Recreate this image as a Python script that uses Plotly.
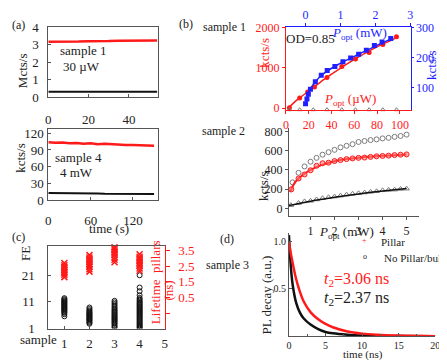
import plotly.graph_objects as go

W, H = 447, 360
FONT = "Liberation Serif"
RED = "#ff1a1a"
BLUE = "#1f1fff"
GRAY = "#7a7a7a"
AX = "#555555"

# ---------------- data ----------------
# (a) sample 1, Mcts/s vs time (s)
a1_t = [0, 5, 10, 15, 20, 25, 30, 35, 40, 45, 50, 54]
a1_pillar = [3.18, 3.17, 3.2, 3.19, 3.21, 3.2, 3.22, 3.24, 3.25, 3.24, 3.26, 3.25]
a1_bulk = [0.3, 0.3, 0.3, 0.3, 0.3, 0.3, 0.3, 0.3, 0.3, 0.3, 0.3, 0.3]
# (a) sample 4, kcts/s vs time (s)
a4_t = [0, 10, 20, 30, 40, 50, 60, 70, 80, 90, 100, 110, 120, 130, 140, 150]
a4_pillar = [104, 103, 103.5, 102, 102.5, 101, 102, 100.5, 101, 100, 99.5, 99, 99, 98, 98, 97.5]
a4_bulk = [12.5, 12.5, 12, 12, 12, 11.5, 11.5, 11.5, 11, 11, 11, 11, 10.5, 10.5, 10.5, 10.5]

# (b) sample 1: red = P_opt (uW) vs kcts/s (left), blue = P_opt (mW) vs kcts/s (right)
b1_red_p = [3, 12, 19, 25, 36, 49, 61, 73, 85, 97]
b1_red_k = [10, 250, 400, 525, 760, 1030, 1215, 1380, 1580, 1770]
b1_redfit_p = [2, 10, 20, 30, 40, 50, 60, 70, 80, 90, 98]
b1_redfit_k = [0, 210, 420, 640, 840, 1030, 1210, 1370, 1520, 1650, 1760]
b1_bg_p = [3, 12, 24, 36, 49, 61, 73, 85, 97]
b1_bg_k = [-40, -40, -40, -40, -40, -40, -40, -40, -40]
b1_blue_p = [0, 0.04, 0.08, 0.14, 0.28, 0.45, 0.62, 0.84, 1.07, 1.29, 1.52, 1.74, 1.97, 2.19, 2.44]
b1_blue_k = [46, 62, 78, 94, 119, 141, 157, 170, 186, 198, 211, 224, 240, 252, 263]
b1_bluefit_p = [0, 0.05, 0.15, 0.3, 0.5, 0.8, 1.1, 1.5, 2.0, 2.45]
b1_bluefit_k = [45, 68, 98, 122, 145, 168, 187, 210, 238, 262]

# (b) sample 2: kcts/s vs P_opt (mW)
b2_circ_p = [0.25, 0.5, 0.75, 1.0, 1.25, 1.5, 1.75, 2.0, 2.25, 2.5, 2.75, 3.0, 3.25, 3.5, 3.75, 4.0, 4.25, 4.5, 4.75, 5.0]
b2_circ_k = [271, 370, 436, 485, 525, 558, 584, 608, 634, 650, 667, 690, 700, 710, 717, 727, 733, 743, 752, 766]
b2_red_p = [0.2, 0.5, 0.75, 1.0, 1.25, 1.5, 1.75, 2.0, 2.25, 2.5, 2.75, 3.0, 3.25, 3.5, 3.75, 4.0, 4.25, 4.5, 4.75, 5.0]
b2_red_k = [198, 311, 353, 396, 443, 469, 475, 492, 502, 512, 519, 525, 528, 535, 541, 545, 548, 554, 558, 561]
b2_redfit_p = [0.15, 0.3, 0.5, 0.75, 1.0, 1.5, 2.0, 2.5, 3.0, 3.5, 4.0, 4.5, 5.0]
b2_redfit_k = [170, 250, 310, 360, 400, 455, 490, 512, 527, 537, 546, 553, 560]
b2_tri_p = [0.18, 0.5, 0.75, 1.0, 1.25, 1.5, 1.75, 2.0, 2.25, 2.5, 2.75, 3.0, 3.25, 3.5, 3.75, 4.0, 4.25, 4.5, 4.75, 5.0]
b2_tri_k = [34, 56, 73, 79, 93, 106, 116, 123, 133, 143, 152, 158, 165, 172, 178, 188, 192, 195, 202, 205]
b2_fit_p = [0.1, 1, 2, 3, 4, 5]
b2_fit_k = [30, 75, 115, 150, 180, 207]

# (c) FE and lifetime per sample
c_fe = {
    1: [5.6, 6.4, 6.9, 7.3, 7.7, 8.0, 8.3, 8.6, 8.9, 9.2, 9.5, 9.8, 10.1, 10.4, 10.7, 11.0, 11.3, 11.6, 12.0, 12.4],
    2: [2.8, 3.2, 3.6, 4.0, 4.3, 4.6, 4.9, 5.2, 5.5, 5.8, 6.1, 6.4, 6.7, 7.0, 7.4, 7.8, 8.3, 8.9],
    3: [1.3, 1.8, 2.3, 2.8, 3.2, 3.6, 4.0, 4.4, 4.8, 5.2, 5.6, 6.0, 6.4, 6.8, 7.2, 7.6, 8.0, 8.5, 9.0, 9.6, 10.2, 10.8, 11.4],
    4: [1.0, 1.4, 1.8, 2.2, 2.6, 3.0, 3.4, 3.8, 4.2, 4.6, 5.0, 5.4, 5.8, 6.2, 6.6, 7.0, 7.4, 7.8, 8.2, 8.6, 9.0, 9.4, 9.8, 10.2, 10.6, 11.0, 11.5, 12.0, 12.5, 13.5, 15.0, 16.4, 21.0],
}
c_tau = {
    1: [1.8, 1.95, 2.05, 2.15, 2.25, 2.35, 2.45, 2.55, 2.7],
    2: [2.15, 2.3, 2.45, 2.55, 2.65, 2.75, 2.85, 2.95, 3.05, 3.2],
    3: [2.75, 2.9, 3.05, 3.2, 3.3, 3.4, 3.5, 3.6, 3.7, 3.85],
    4: [2.2, 2.35, 2.5, 2.6, 2.7, 2.8, 2.9, 3.0, 3.1, 3.25],
}

# (d) PL decay
d_t = [0, 0.25, 0.5, 1, 1.5, 2, 3, 4, 5, 6, 8, 10, 12, 15, 20]
d_pillar = [1.0, 0.88, 0.78, 0.6, 0.47, 0.37, 0.25, 0.18, 0.13, 0.095, 0.05, 0.027, 0.015, 0.006, 0.0]
d_bulk = [1.07, 0.75, 0.55, 0.35, 0.25, 0.19, 0.12, 0.075, 0.045, 0.03, 0.015, 0.007, 0.003, 0.001, 0.0]


def xd(x0, x1):
    return [x0 / W, x1 / W]


def yd(y0, y1):
    return [1 - y1 / H, 1 - y0 / H]


fig = go.Figure()


def add(**kw):
    kw.setdefault("showlegend", False)
    kw.setdefault("hoverinfo", "skip")
    fig.add_trace(go.Scatter(**kw))


# (a)
add(x=a1_t, y=a1_pillar, mode="lines", line=dict(color=RED, width=2.5), xaxis="x", yaxis="y")
add(x=a1_t, y=a1_bulk, mode="lines", line=dict(color="#111", width=2), xaxis="x", yaxis="y")
add(x=a4_t, y=a4_pillar, mode="lines", line=dict(color=RED, width=2.5), xaxis="x2", yaxis="y2")
add(x=a4_t, y=a4_bulk, mode="lines", line=dict(color="#111", width=2), xaxis="x2", yaxis="y2")

# (c)
for s in [1, 2, 3, 4]:
    add(x=[s] * len(c_fe[s]), y=c_fe[s], mode="markers",
        marker=dict(symbol="circle-open", size=5, color="#111", line=dict(width=1)),
        xaxis="x3", yaxis="y3")
for s in [1, 2, 3, 4]:
    add(x=[s] * len(c_tau[s]), y=c_tau[s], mode="markers", cliponaxis=False,
        marker=dict(symbol="x-thin-open", size=6, color=RED, line=dict(width=1.5, color=RED)),
        xaxis="x3", yaxis="y4")

# (b) sample 1
add(x=b1_redfit_p, y=b1_redfit_k, mode="lines", line=dict(color=RED, width=1.5, shape="spline"), xaxis="x4", yaxis="y5")
add(x=b1_red_p, y=b1_red_k, mode="markers", marker=dict(color=RED, size=5), xaxis="x4", yaxis="y5")
add(x=b1_bg_p, y=b1_bg_k, mode="markers", cliponaxis=False,
    marker=dict(symbol="triangle-up-open", color=GRAY, size=4, line=dict(width=1)), xaxis="x4", yaxis="y5")
add(x=b1_bluefit_p, y=b1_bluefit_k, mode="lines", line=dict(color=BLUE, width=1.5, shape="spline"), xaxis="x5", yaxis="y6")
add(x=b1_blue_p, y=b1_blue_k, mode="markers", marker=dict(color=BLUE, size=5, symbol="square"), xaxis="x5", yaxis="y6")

# (b) sample 2
add(x=b2_circ_p, y=b2_circ_k, mode="markers",
    marker=dict(symbol="circle-open", color=GRAY, size=5, line=dict(width=1)), xaxis="x6", yaxis="y7")
add(x=b2_redfit_p, y=b2_redfit_k, mode="lines", line=dict(color=RED, width=2, shape="spline"), xaxis="x6", yaxis="y7")
add(x=b2_red_p, y=b2_red_k, mode="markers",
    marker=dict(symbol="circle", color="rgba(255,120,120,0.6)", size=5, line=dict(width=1, color=RED)), xaxis="x6", yaxis="y7")
add(x=b2_tri_p, y=b2_tri_k, mode="markers",
    marker=dict(symbol="triangle-up-open", color=GRAY, size=5, line=dict(width=1)), xaxis="x6", yaxis="y7")
add(x=b2_fit_p, y=b2_fit_k, mode="lines", line=dict(color="#111", width=1.5, shape="spline"), xaxis="x6", yaxis="y7")

# (d)
add(x=d_t, y=d_bulk, mode="lines", line=dict(color="#111", width=2.5, shape="spline"), xaxis="x7", yaxis="y8")
add(x=d_t, y=d_pillar, mode="lines", line=dict(color=RED, width=2.5, shape="spline"), xaxis="x7", yaxis="y8")


def ax(**kw):
    base = dict(showline=True, linecolor=AX, linewidth=1, ticks="inside", ticklen=3,
                tickcolor=AX, showgrid=False, zeroline=False,
                tickfont=dict(family=FONT, size=13, color="#222"))
    base.update(kw)
    return base


layout = dict(
    width=W, height=H, autosize=False,
    margin=dict(l=0, r=0, t=0, b=0),
    paper_bgcolor="white", plot_bgcolor="rgba(0,0,0,0)",
    font=dict(family=FONT, size=13, color="#222"),
    showlegend=False,
    # (a) top
    xaxis=ax(domain=xd(38, 150), anchor="y", range=[0, 54.6], tickvals=[0, 20, 40], mirror=True, ticklabelstandoff=10),
    yaxis=ax(domain=yd(11, 84), anchor="x", range=[0, 4], tickvals=[0, 1, 2, 3, 4], mirror=True, ticklabelstandoff=6),
    # (a) bottom
    xaxis2=ax(domain=xd(38, 150), anchor="y2", range=[0, 156], tickvals=[0, 60, 120], mirror=True, ticklabelstandoff=8),
    yaxis2=ax(domain=yd(118, 192), anchor="x2", range=[0, 127], tickvals=[0, 30, 60, 90, 120], mirror=True, ticklabelstandoff=1),
    # (c)
    xaxis3=ax(domain=xd(38, 156.5), anchor="y3", range=[0.36, 5.0], tickvals=[1, 2, 3, 4, 5], mirror=True, ticklabelstandoff=3),
    yaxis3=ax(domain=yd(240, 327), anchor="x3", range=[1, 32.1], tickvals=[1, 11, 21], ticklabelstandoff=10),
    yaxis4=ax(overlaying="y3", side="right", anchor="x3", range=[-1.47, 3.8],
              tickvals=[0.5, 1.5, 2.5, 3.5],
              minor=dict(tick0=-1.5, dtick=1, ticks="outside", ticklen=4, tickcolor=RED),
              linecolor=RED, tickcolor=RED, ticks="outside", ticklen=4, ticklabelstandoff=6,
              tickfont=dict(family=FONT, size=13, color=RED)),
    # (b) sample 1
    xaxis4=ax(domain=xd(280, 407), anchor="y5", range=[0, 109.5], tickvals=[0, 20, 40, 60, 80, 100],
              linecolor=RED, tickcolor=RED, ticks="outside", tickfont=dict(family=FONT, size=12, color=RED)),
    xaxis5=ax(overlaying="x4", side="top", anchor="y5", range=[-0.56, 3.01], tickvals=[0, 1, 2, 3],
              linecolor=BLUE, tickcolor=BLUE, ticks="outside", tickfont=dict(family=FONT, size=12, color=BLUE)),
    yaxis5=ax(domain=yd(11, 98), anchor="x4", range=[-57, 2000], tickvals=[0, 1000, 2000],
              linecolor=RED, tickcolor=RED, ticks="outside", tickfont=dict(family=FONT, size=12, color=RED)),
    yaxis6=ax(overlaying="y5", side="right", anchor="x4", range=[24, 300], tickvals=[100, 200, 300],
              linecolor=BLUE, tickcolor=BLUE, ticks="outside", ticklen=2, ticklabelstandoff=0,
              tickfont=dict(family=FONT, size=12, color=BLUE)),
    # (b) sample 2
    xaxis6=ax(domain=xd(283, 415), anchor="y7", range=[0.1, 5.5], tickvals=[1, 2, 3, 4, 5], ticks="outside",
              tickfont=dict(family=FONT, size=12, color="#222")),
    yaxis7=ax(domain=yd(117, 209), anchor="x6", range=[-80, 830], tickvals=[0, 200, 400, 600, 800], ticks="outside",
              tickfont=dict(family=FONT, size=12, color="#222")),
    # (d)
    xaxis7=ax(domain=xd(283, 432), anchor="y8", range=[0, 20], tickvals=[0, 5, 10, 15, 20],
              minor=dict(dtick=2.5, ticks="inside", ticklen=2, tickcolor=AX),
              tickfont=dict(family=FONT, size=10, color="#222")),
    yaxis8=ax(domain=yd(227, 335), anchor="x7", range=[0, 1.09], tickvals=[0.5, 1.0], ticktext=["0.5", "1.0"],
              tickfont=dict(family=FONT, size=10, color="#222")),
)
fig.update_layout(**layout)

anns = []


def ann(text, x, y, size=13, color="#222", angle=0, xanchor="center"):
    anns.append(dict(text=text, x=x / W, y=1 - y / H, xref="paper", yref="paper",
                     showarrow=False, xanchor=xanchor, yanchor="middle", textangle=angle,
                     font=dict(family=FONT, size=size, color=color)))


P = "<i>P</i><sub>opt</sub>"
ann("(a)", 8, 8, 12)
ann("(b)", 178, 7, 12)
ann("sample 1", 217, 10, 12)
ann("sample 2", 216, 120, 12)
ann("(c)", 8, 231, 12)
ann("(d)", 220, 233, 12)
ann("sample 3", 220, 260, 12)
ann("sample 1", 74, 35, 13)
ann("30 µW", 72, 52, 13)
ann("sample 4", 69, 147, 13)
ann("4 mW", 67, 163, 13)
ann("Mcts/s", 12, 56, 13, angle=-90)
ann("kcts/s", 9, 148, 13, angle=-90)
ann("time (s)", 100, 222, 13)
ann("FE", 15, 248, 13, angle=-90)
ann("sample", 28, 339, 13)
ann("Lifetime  pillars", 148, 278, 13, RED, angle=-90)
ann("(ns)", 160, 287, 13, RED, angle=-90)
ann("kcts/s", 258, 37, 13, RED, angle=-90)
ann("kcts/s", 428, 50, 13, BLUE, angle=-90)
ann("OD=0.85", 305, 23, 13)
ann(P + " (mW)", 355, 17, 13, BLUE)
ann(P + " (µW)", 345, 87, 13, RED)
ann("kcts/s", 257, 177, 13, angle=-90)
ann(P + " (mW)", 342, 226, 13)
ann("PL decay (a.u.)", 260, 292, 13, angle=-90)
ann("time (ns)", 358, 354, 11)
ann("<i>t</i><sub>2</sub>=3.06 ns", 352, 275, 16, RED)
ann("<i>t</i><sub>2</sub>=2.37 ns", 352, 295, 16, "#222")
# legend of (d)
ann("+", 360, 235, 8, RED)
ann("o", 360, 251, 8, "#222")
ann("Pillar", 375, 236, 11, xanchor="left")
ann("No Pillar/bulk", 446, 253, 11, xanchor="right")
fig.update_layout(annotations=anns)

fig.write_html("out.html")
